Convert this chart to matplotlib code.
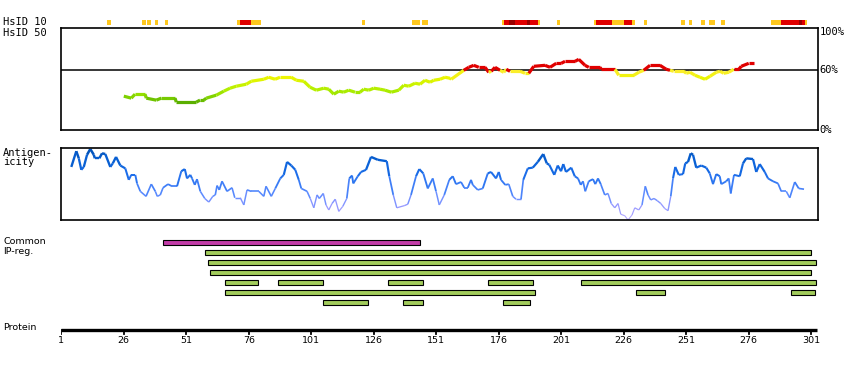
import matplotlib
matplotlib.use("Agg")
import matplotlib.pyplot as plt
import numpy as np
from matplotlib.collections import LineCollection
from matplotlib.colors import LinearSegmentedColormap, Normalize

# HsID 10 blocks (residue ranges, level 1=low 2=mid 3=high)
hsid10_start = [19.3, 33.3, 35.3, 38.5, 42.5, 71.3, 72.5, 76.9, 121.3, 141.3, 145.3,
                177.3, 178.1, 180.1, 182.5, 187.3, 188.5, 191.7, 199.3, 214.1, 214.9,
                221.3, 226.1, 229.3, 234.1, 248.9, 252.1, 256.9, 260.1, 264.9, 284.9,
                288.9, 296.1, 297.3, 298.5]
hsid10_end = [20.9, 34.9, 36.9, 39.7, 43.7, 72.5, 76.9, 80.9, 122.5, 144.5, 147.7,
              178.1, 180.1, 182.5, 187.3, 188.5, 191.7, 192.5, 200.5, 214.9, 221.3,
              226.1, 229.3, 230.5, 235.3, 250.5, 253.3, 258.5, 262.5, 266.5, 288.9,
              296.1, 297.3, 298.5, 299.3]
hsid10_level = [1, 1, 1, 1, 1, 1, 2, 1, 1, 1, 1, 1, 2, 3, 2, 3, 2, 1, 1, 1, 2, 1, 2, 1,
                1, 1, 1, 1, 1, 1, 1, 2, 3, 2, 1]

# HsID 50 profile (% identity)
hsid50_res = [26, 29, 30.5, 34.5, 35, 39, 41, 46.5, 47, 55, 56.5, 58, 59, 63, 66, 68.5,
              71, 75, 77, 82, 84, 86.5, 88.5, 93, 95, 98, 100.5, 103, 106, 108, 110,
              112, 114, 116, 118.5, 120.5, 122, 124, 126, 128.5, 130.5, 133, 136, 138,
              140, 142.5, 144.5, 146.5, 148.5, 150, 152.5, 154.5, 156.5, 157, 162, 164,
              166, 168, 170.5, 172, 173, 174.5, 176.5, 178, 179, 180.5, 184.5, 186.5,
              188, 190, 194.5, 196.5, 199, 201, 202.5, 206.5, 208, 210.5, 212, 216.5,
              217, 222.5, 224, 230, 232, 234, 236.5, 240.5, 243, 244.5, 246, 250, 251,
              252.5, 254.5, 256.5, 258.5, 260.5, 263, 264.5, 266, 268, 270, 272, 273,
              276, 278]
hsid50_pct = [34, 32, 36, 36, 32, 30, 32, 32, 28, 28, 30, 30, 32, 35, 39, 42, 44, 46, 49,
              51, 53, 51, 53, 53, 50, 49, 43, 40, 42, 41, 36, 39, 38, 40, 38, 38, 41, 40,
              42, 41, 40, 38, 40, 45, 44, 47, 46, 50, 48, 50, 51, 53, 52, 51, 60, 63, 65,
              63, 63, 58, 59, 63, 60, 58, 61, 59, 59, 57, 57, 64, 65, 63, 67, 67, 69, 69,
              71, 65, 63, 63, 61, 61, 55, 55, 58, 60, 65, 65, 61, 60, 59, 59, 57, 58, 55,
              53, 51, 54, 58, 59, 57, 58, 61, 61, 64, 67, 67]

# antigenicity profile (relative score 0-100)
anti_res = [5, 7, 8, 9, 10, 11.3, 12.6, 14, 14.4, 16.2, 17.3, 18.6, 20.6, 21.6, 22.9, 24.6,
            26.6, 28, 29, 30.6, 31.3, 32.6, 34.9, 37, 38.6, 39.4, 40.6, 41.7, 43.7, 45.3,
            47.3, 49, 50.4, 51.3, 52.6, 53.3, 54.4, 55.3, 56.6, 58.4, 60, 61.6, 62.6, 63.3,
            64.2, 65.3, 67.3, 69.3, 70.4, 72.6, 74, 75.3, 77, 80, 82, 82.9, 85, 86.6, 88.6,
            90, 91.3, 93, 94.6, 96, 97, 99.3, 100.6, 102, 103.3, 104.2, 105.8, 106.9, 108,
            109.3, 110.6, 112, 113.6, 115.2, 116.2, 117.3, 117.8, 119.6, 120.9, 122.9, 124.9,
            127.6, 131.2, 132.2, 133.8, 135.2, 138.2, 139.6, 140.9, 142.9, 144.2, 145.8,
            147.6, 149.6, 150.9, 152.2, 154.2, 156.2, 157.6, 158.9, 160.9, 162.2, 163.6,
            164.9, 165.6, 167.6, 169.6, 171.6, 172.9, 174.9, 176, 176.9, 178.6, 180, 181.6,
            182.9, 184.9, 185.8, 187.6, 189.6, 191.6, 193.8, 195.2, 196.2, 198.2, 199.6,
            200.9, 201.8, 202.9, 205, 206.4, 207.7, 208.8, 209.7, 210.6, 212, 213.7, 214.6,
            215.7, 216.8, 218.4, 219.7, 221, 222.4, 223.7, 224.8, 226.4, 227.7, 229.3,
            230.4, 232, 233.3, 234.6, 235.7, 236.8, 238.1, 239.4, 240.8, 242.4, 243.7,
            244.8, 245.7, 246.6, 248, 249.7, 250.6, 251.7, 252.8, 253.7, 255, 257, 259,
            260.4, 261.7, 263, 264.4, 265, 267, 268, 268.8, 270.1, 272.4, 273.7, 275,
            277.7, 279, 280.4, 282.4, 283.7, 285.7, 287.7, 289, 291, 292.4, 294.4, 296,
            298.1]
anti_val = [74, 96, 86, 70, 74, 91, 99, 91, 86, 86, 93, 92, 74, 79, 88, 76, 72, 56, 63, 63,
            51, 40, 33, 50, 40, 33, 35, 45, 50, 47, 47, 68, 71, 58, 63, 58, 49, 57, 40, 30,
            25, 33, 35, 48, 42, 54, 40, 45, 31, 31, 21, 42, 40, 40, 33, 47, 33, 44, 58, 63,
            81, 76, 70, 56, 44, 40, 30, 17, 35, 30, 37, 21, 14, 23, 29, 12, 19, 30, 58, 62,
            51, 61, 67, 70, 88, 84, 82, 61, 35, 17, 20, 22, 35, 61, 71, 65, 44, 58, 40, 21,
            35, 56, 61, 50, 53, 45, 45, 56, 49, 42, 44, 65, 67, 58, 67, 56, 49, 50, 33, 29,
            29, 56, 72, 73, 81, 92, 79, 77, 63, 76, 68, 78, 67, 73, 61, 58, 49, 54, 40, 54,
            57, 50, 58, 50, 35, 37, 23, 17, 23, 8, 6, 0, 7, 17, 14, 21, 47, 35, 28, 30, 27,
            23, 16, 13, 33, 58, 74, 63, 64, 79, 81, 93, 91, 73, 76, 73, 65, 50, 64, 61, 50,
            54, 58, 37, 63, 61, 79, 86, 85, 67, 78, 67, 58, 54, 51, 40, 40, 31, 53, 44, 43]

# common IP regions (row, start, end)
ip_row = [0, 1, 2, 3, 4, 4, 4, 4, 4, 5, 5, 5, 6, 6, 6]
ip_start = [41.5, 58.5, 59.5, 60.5, 66.5, 87.5, 131.5, 171.5, 209, 66.5, 231, 293, 105.5, 137.5, 177.5]
ip_end = [144.5, 301, 303, 301, 79.5, 105.5, 145.5, 189.5, 303, 190.5, 242.5, 302.5, 123.5, 145.5, 188.5]

tick_res = [1, 26, 51, 76, 101, 126, 151, 176, 201, 226, 251, 276, 301]

W, H = 850, 370
fig = plt.figure(figsize=(W / 100, H / 100), dpi=100)
fig.patch.set_facecolor("white")

XL = (1, 303.5)
mono = "DejaVu Sans Mono"


def px_axes(x0, y0, x1, y1):
    return fig.add_axes([x0 / W, 1 - y1 / H, (x1 - x0) / W, (y1 - y0) / H])


def bare(ax):
    ax.set_xticks([])
    ax.set_yticks([])
    for s in ax.spines.values():
        s.set_visible(False)


# HsID 10 strip
ax10 = px_axes(61.3, 19.8, 817.5, 24.8)
bare(ax10)
ax10.set_xlim(*XL)
ax10.set_ylim(0, 1)
c10 = {1: "#ffc81e", 2: "#e00000", 3: "#9a0000"}
for s, e, lv in zip(hsid10_start, hsid10_end, hsid10_level):
    ax10.barh(0.5, e - s, left=s, height=1, color=c10[lv], linewidth=0)

# HsID 50 box
ax50 = px_axes(61.3, 28.3, 817.5, 130)
ax50.set_xlim(*XL)
ax50.set_ylim(0, 102.2)
ax50.set_xticks([])
ax50.set_yticks([])
for s in ax50.spines.values():
    s.set_linewidth(1.2)
ax50.axhline(60, color="black", lw=1.1)

green_cm = LinearSegmentedColormap.from_list(
    "hs", [(0, "#5aae00"), (0.15, "#7ccf00"), (0.35, "#aaec00"), (0.6, "#cff400"),
           (0.8, "#ecf500"), (1, "#fbee2a")])
pts = np.column_stack([hsid50_res, hsid50_pct])
segs = np.stack([pts[:-1], pts[1:]], axis=1)
mid = (np.array(hsid50_pct[:-1]) + np.array(hsid50_pct[1:])) / 2
cols = [("#e00000" if m >= 60 else green_cm((m - 28) / 31)) for m in mid]
ax50.add_collection(LineCollection(segs, colors=cols, linewidths=2.3, capstyle="butt"))

for lab, yv in [("100%", 98.5), ("60%", 60), ("0%", 0)]:
    ax50.text(1.003, yv / 102.2, lab, transform=ax50.transAxes, fontsize=7.5,
              family=mono, va="center", ha="left")

fig.text(3 / W, 1 - 22 / H, "HsID 10", fontsize=7.5, family=mono, va="center")
fig.text(3 / W, 1 - 33 / H, "HsID 50", fontsize=7.5, family=mono, va="center")

# antigenicity box
axA = px_axes(61.3, 148.3, 817.5, 220)
axA.set_xlim(*XL)
axA.set_ylim(0, 100)
axA.set_xticks([])
axA.set_yticks([])
for s in axA.spines.values():
    s.set_linewidth(1.2)
blue_cm = LinearSegmentedColormap.from_list(
    "ag", [(0, "#b6a8ff"), (0.2, "#9498ff"), (0.35, "#5e8cff"), (0.5, "#3a7cf6"),
           (0.65, "#1a6ce8"), (0.8, "#0a62d8"), (1, "#0050b4")])
pts = np.column_stack([anti_res, anti_val])
segs = np.stack([pts[:-1], pts[1:]], axis=1)
mid = (np.array(anti_val[:-1]) + np.array(anti_val[1:])) / 2
axA.add_collection(LineCollection(segs, colors=blue_cm(Normalize(0, 100)(mid)),
                                  linewidths=(1.0 + 1.6 * mid / 100) * 0.72))
fig.text(3 / W, 1 - 153 / H, "Antigen-", fontsize=7.5, family=mono, va="center")
fig.text(3 / W, 1 - 162 / H, "icity", fontsize=7.5, family=mono, va="center")

# IP regions
axI = px_axes(61.3, 237.5, 817.5, 307.5)
bare(axI)
axI.set_xlim(*XL)
axI.set_ylim(7, 0)
for i, (r, s, e) in enumerate(zip(ip_row, ip_start, ip_end)):
    axI.barh(r + 0.5, e - s, left=s, height=0.48,
             color="#c23ca8" if i == 0 else "#a2cc5c", edgecolor="black", linewidth=0.8)
fig.text(3 / W, 1 - 242 / H, "Common", fontsize=6.8, family="DejaVu Sans", va="center")
fig.text(3 / W, 1 - 252 / H, "IP-reg.", fontsize=6.8, family="DejaVu Sans", va="center")

# protein axis
axP = px_axes(61.3, 327, 817.5, 345)
bare(axP)
axP.set_xlim(*XL)
axP.set_ylim(18, 0)
axP.plot([1, 303.3], [3, 3], color="black", lw=2.4, solid_capstyle="butt")
for t in tick_res:
    axP.plot([t, t], [3, 7], color="black", lw=1.3)
    axP.text(t, 13.5, str(t), fontsize=6.8, ha="center", va="center")
fig.text(3 / W, 1 - 328 / H, "Protein", fontsize=6.8, va="center")

plt.savefig("out.png", dpi=100, facecolor="white")
